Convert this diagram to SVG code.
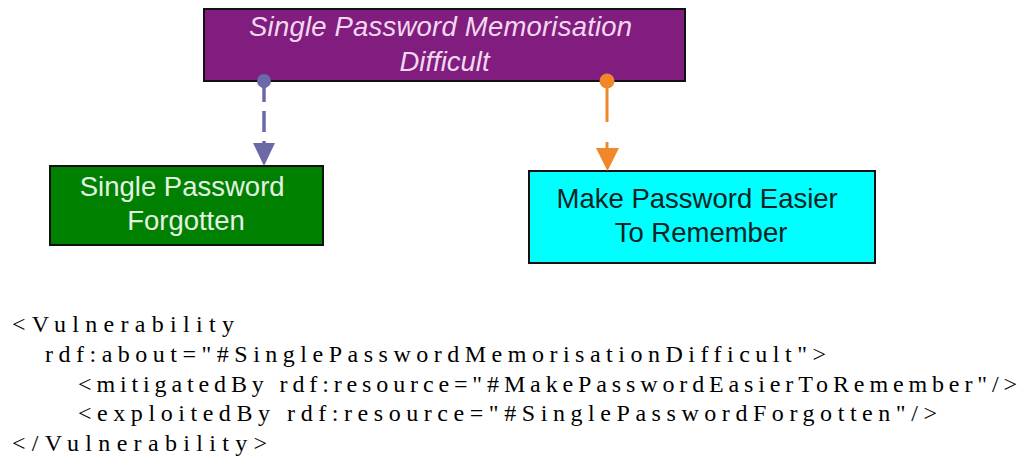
<svg xmlns="http://www.w3.org/2000/svg" width="1022" height="464" viewBox="0 0 1022 464">
  <style>
    .box { stroke: #111; stroke-width: 2; }
    .lbl { font-family: "Liberation Sans", Arial, sans-serif; font-size: 27.5px; text-anchor: middle; }
    .code { font-family: "Liberation Serif", "Times New Roman", serif; font-size: 24px; fill: #000; }
    .exploit { stroke: #6b6aa6; stroke-width: 3.5; fill: none; stroke-dasharray: 21 9; }
    .mitigate { stroke: #f0882a; stroke-width: 3; fill: none; stroke-dasharray: 41 20; }
  </style>
  <rect width="1022" height="464" fill="#fff"/>

  <g id="vulnerability">
    <rect class="box" x="204" y="9" width="481" height="72" fill="#801d7e"/>
    <text class="lbl" font-style="italic" fill="#f2d8ef">
      <tspan x="444.5" y="36" textLength="383">Single Password Memorisation</tspan>
      <tspan x="444.5" y="71">Difficult</tspan>
    </text>
  </g>

  <g id="threat">
    <rect class="box" x="50" y="166" width="273" height="79" fill="#008000"/>
    <text class="lbl" fill="#e2f2e2">
      <tspan x="186" y="196">Single Password</tspan>
      <tspan x="186" y="230">Forgotten</tspan>
    </text>
  </g>

  <g id="mitigation">
    <rect class="box" x="529" y="171" width="346" height="92" fill="#00ffff"/>
    <text class="lbl" fill="#0d2424">
      <tspan x="701" y="208">Make Password Easier</tspan>
      <tspan x="701" y="242">To Remember</tspan>
    </text>
  </g>

  <!-- connectors are drawn after the boxes so the source dots sit on top -->
  <g id="connectors">
    <g id="exploitedBy">
      <line class="exploit" x1="264" y1="81" x2="264" y2="144"/>
      <circle cx="264" cy="81" r="7" fill="#6b6aa6"/>
      <polygon points="253,143 275,143 264,166" fill="#6b6aa6"/>
    </g>
    <g id="mitigatedBy">
      <line class="mitigate" x1="607" y1="81" x2="607" y2="149"/>
      <circle cx="607" cy="81" r="7.5" fill="#f0882a"/>
      <polygon points="596,148 619,148 607.5,171" fill="#f0882a"/>
    </g>
  </g>

  <g id="rdf-listing">
    <text class="code" x="12" y="332" textLength="222" lengthAdjust="spacing">&lt;Vulnerability</text>
    <text class="code" x="45" y="362" textLength="781" lengthAdjust="spacing">rdf:about="#SinglePasswordMemorisationDifficult"&gt;</text>
    <text class="code" x="78" y="392" textLength="939" lengthAdjust="spacing">&lt;mitigatedBy rdf:resource="#MakePasswordEasierToRemember"/&gt;</text>
    <text class="code" x="78" y="421" textLength="859" lengthAdjust="spacing">&lt;exploitedBy rdf:resource="#SinglePasswordForgotten"/&gt;</text>
    <text class="code" x="12" y="451" textLength="255" lengthAdjust="spacing">&lt;/Vulnerability&gt;</text>
  </g>
</svg>
